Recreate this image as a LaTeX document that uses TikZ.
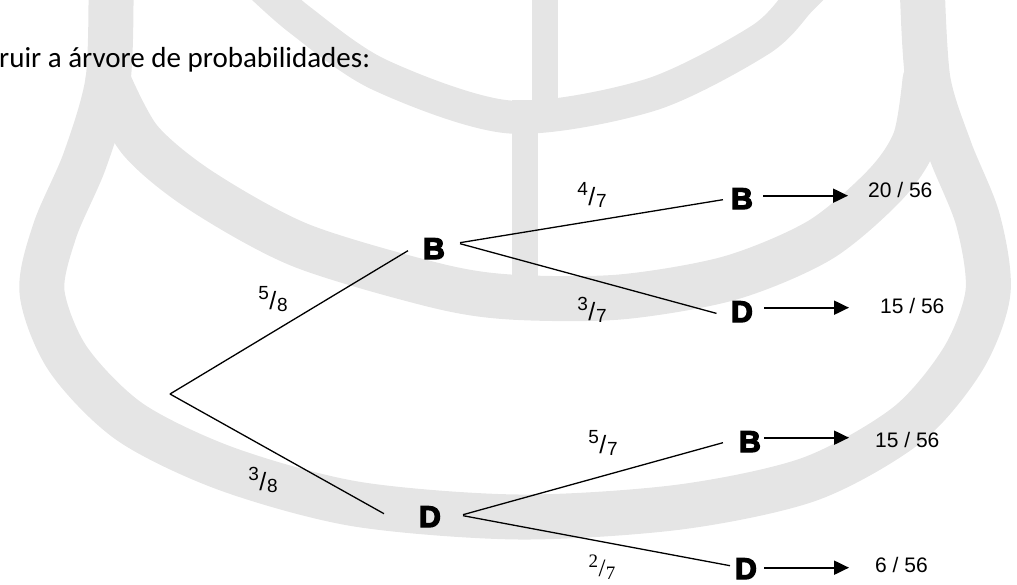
\documentclass[tikz,border=0pt]{standalone}
\usepackage{fontspec}
\setmainfont{Liberation Sans}
\newfontfamily\titlefont{Carlito}
\newfontfamily\heavyfont[FakeBold=4.5]{Liberation Sans Bold}
\newfontfamily\serifdigits{Liberation Serif}
\usetikzlibrary{arrows.meta,calc}
\newcommand\pfrac[2]{\raisebox{10pt}{\fontsize{19}{19}\selectfont #1}\kern0.3pt{\fontsize{25}{25}\selectfont/}\kern0.8pt\raisebox{-2pt}{\fontsize{19}{19}\selectfont #2}}
\newcommand\sfrac[2]{{\serifdigits\raisebox{9pt}{\fontsize{19}{19}\selectfont #1}\kern0.3pt{\fontsize{25}{25}\selectfont/}\kern0.3pt\raisebox{-3.5pt}{\fontsize{19}{19}\selectfont #2}}}
\tikzset{
  wm/.style={draw=black!10, line cap=round, line join=round},
  wmfill/.style={fill=black!10},
  letter/.style={inner sep=0pt, anchor=base, font=\heavyfont\fontsize{30}{30}\selectfont},
  frac/.style={inner sep=0pt, font=\fontsize{25}{25}\selectfont},
  res/.style={inner sep=0pt, anchor=base west, font=\fontsize{21}{21}\selectfont},
  branch/.style={line width=1.3pt},
  arr/.style={line width=2pt, -{Triangle[length=15pt,width=14pt]}},
}
\begin{document}
\begin{tikzpicture}[x=1pt,y=-1pt]
\useasboundingbox (0,0) rectangle (1017,584);
% watermark
\begin{scope}
\clip (0,0) rectangle (1017,584);
\fill[wmfill] (532,-2) rectangle (558,110);
\fill[wmfill] (512,100) rectangle (538,282);
\draw[wm, line width=33pt] plot[smooth] coordinates {(255,-20) (300,20) (380,75) (510,117) (650,95) (760,40) (800,0) (820,-20)};
\draw[wm, line width=45pt] plot[smooth] coordinates {(111,-20) (108,80) (85,160) (55,230) (42,292) (68,359) (130,422) (227,469) (356,504) (519,517) (680,507) (810,479) (907,425) (963,359) (988,292) (978,220) (950,150) (928,80) (922,-20)};
\draw[wm, line width=45pt] plot[smooth] coordinates {(108,80) (140,140) (200,190) (300,245) (434,285) (510,297) (620,297) (730,278) (820,240) (885,185) (915,140) (925,80)};
\end{scope}
% title
\node[inner sep=0pt, anchor=base west, font=\titlefont\fontsize{29}{29}\selectfont] (title) at (-1,67) {ruir a árvore de probabilidades:};
% tree
\coordinate (root) at (170,394);
\node[letter] (B1) at (434,259) {B};
\node[letter] (D1) at (430,527) {D};
\node[letter] (B2) at (742,209) {B};
\node[letter] (D2) at (742,322) {D};
\node[letter] (B3) at (750,452) {B};
\node[letter] (D3) at (746,579) {D};
\draw[branch] (root) -- ([xshift=-15pt,yshift=-2pt]B1.west);
\draw[branch] (root) -- ([xshift=-35pt,yshift=3pt]D1.west);
\draw[branch] ([xshift=15pt,yshift=6pt]B1.east) -- ([xshift=-8pt,yshift=-1pt]B2.west);
\draw[branch] ([xshift=15pt,yshift=5pt]B1.east) -- ([xshift=-14.5pt,yshift=-1.7pt]D2.west);
\draw[branch] ([xshift=22pt,yshift=2pt]D1.east) -- ([xshift=-16pt,yshift=-1pt]B3.west);
\draw[branch] ([xshift=22pt,yshift=1pt]D1.east) -- ([xshift=-5pt,yshift=3pt]D3.west);
% fractions
\node[frac] (f58) at (273,299) {\pfrac{5}{8}};
\node[frac] (f38) at (263,480) {\pfrac{3}{8}};
\node[frac] (f47) at (592,195) {\pfrac{4}{7}};
\node[frac] (f37) at (592,310) {\pfrac{3}{7}};
\node[frac] (f57) at (603,443) {\pfrac{5}{7}};
\node[frac] (f27) at (602,567) {\sfrac{2}{7}};
% results
\node[res] (r1) at (868,197) {20 / 56};
\node[res] (r2) at (880,313) {15 / 56};
\node[res] (r3) at (875,447) {15 / 56};
\node[res] (r4) at (875,572) {6 / 56};
\draw[arr, shorten <=10pt, shorten >=20pt] ($(B2.east)+(0,-3)$) -- ($(B2.east -| r1.west)+(0,-3)$);
\draw[arr, shorten <=11pt, shorten >=31pt] ($(D2.east)+(0,-4)$) -- ($(D2.east -| r2.west)+(0,-4)$);
\draw[arr, shorten <=3pt, shorten >=26pt] ($(B3.east)+(0,-4)$) -- ($(B3.east -| r3.west)+(0,-4)$);
\draw[arr, shorten <=7pt, shorten >=26pt] ($(D3.east)+(0,-1)$) -- ($(D3.east -| r4.west)+(0,-1)$);
\end{tikzpicture}
\end{document}
